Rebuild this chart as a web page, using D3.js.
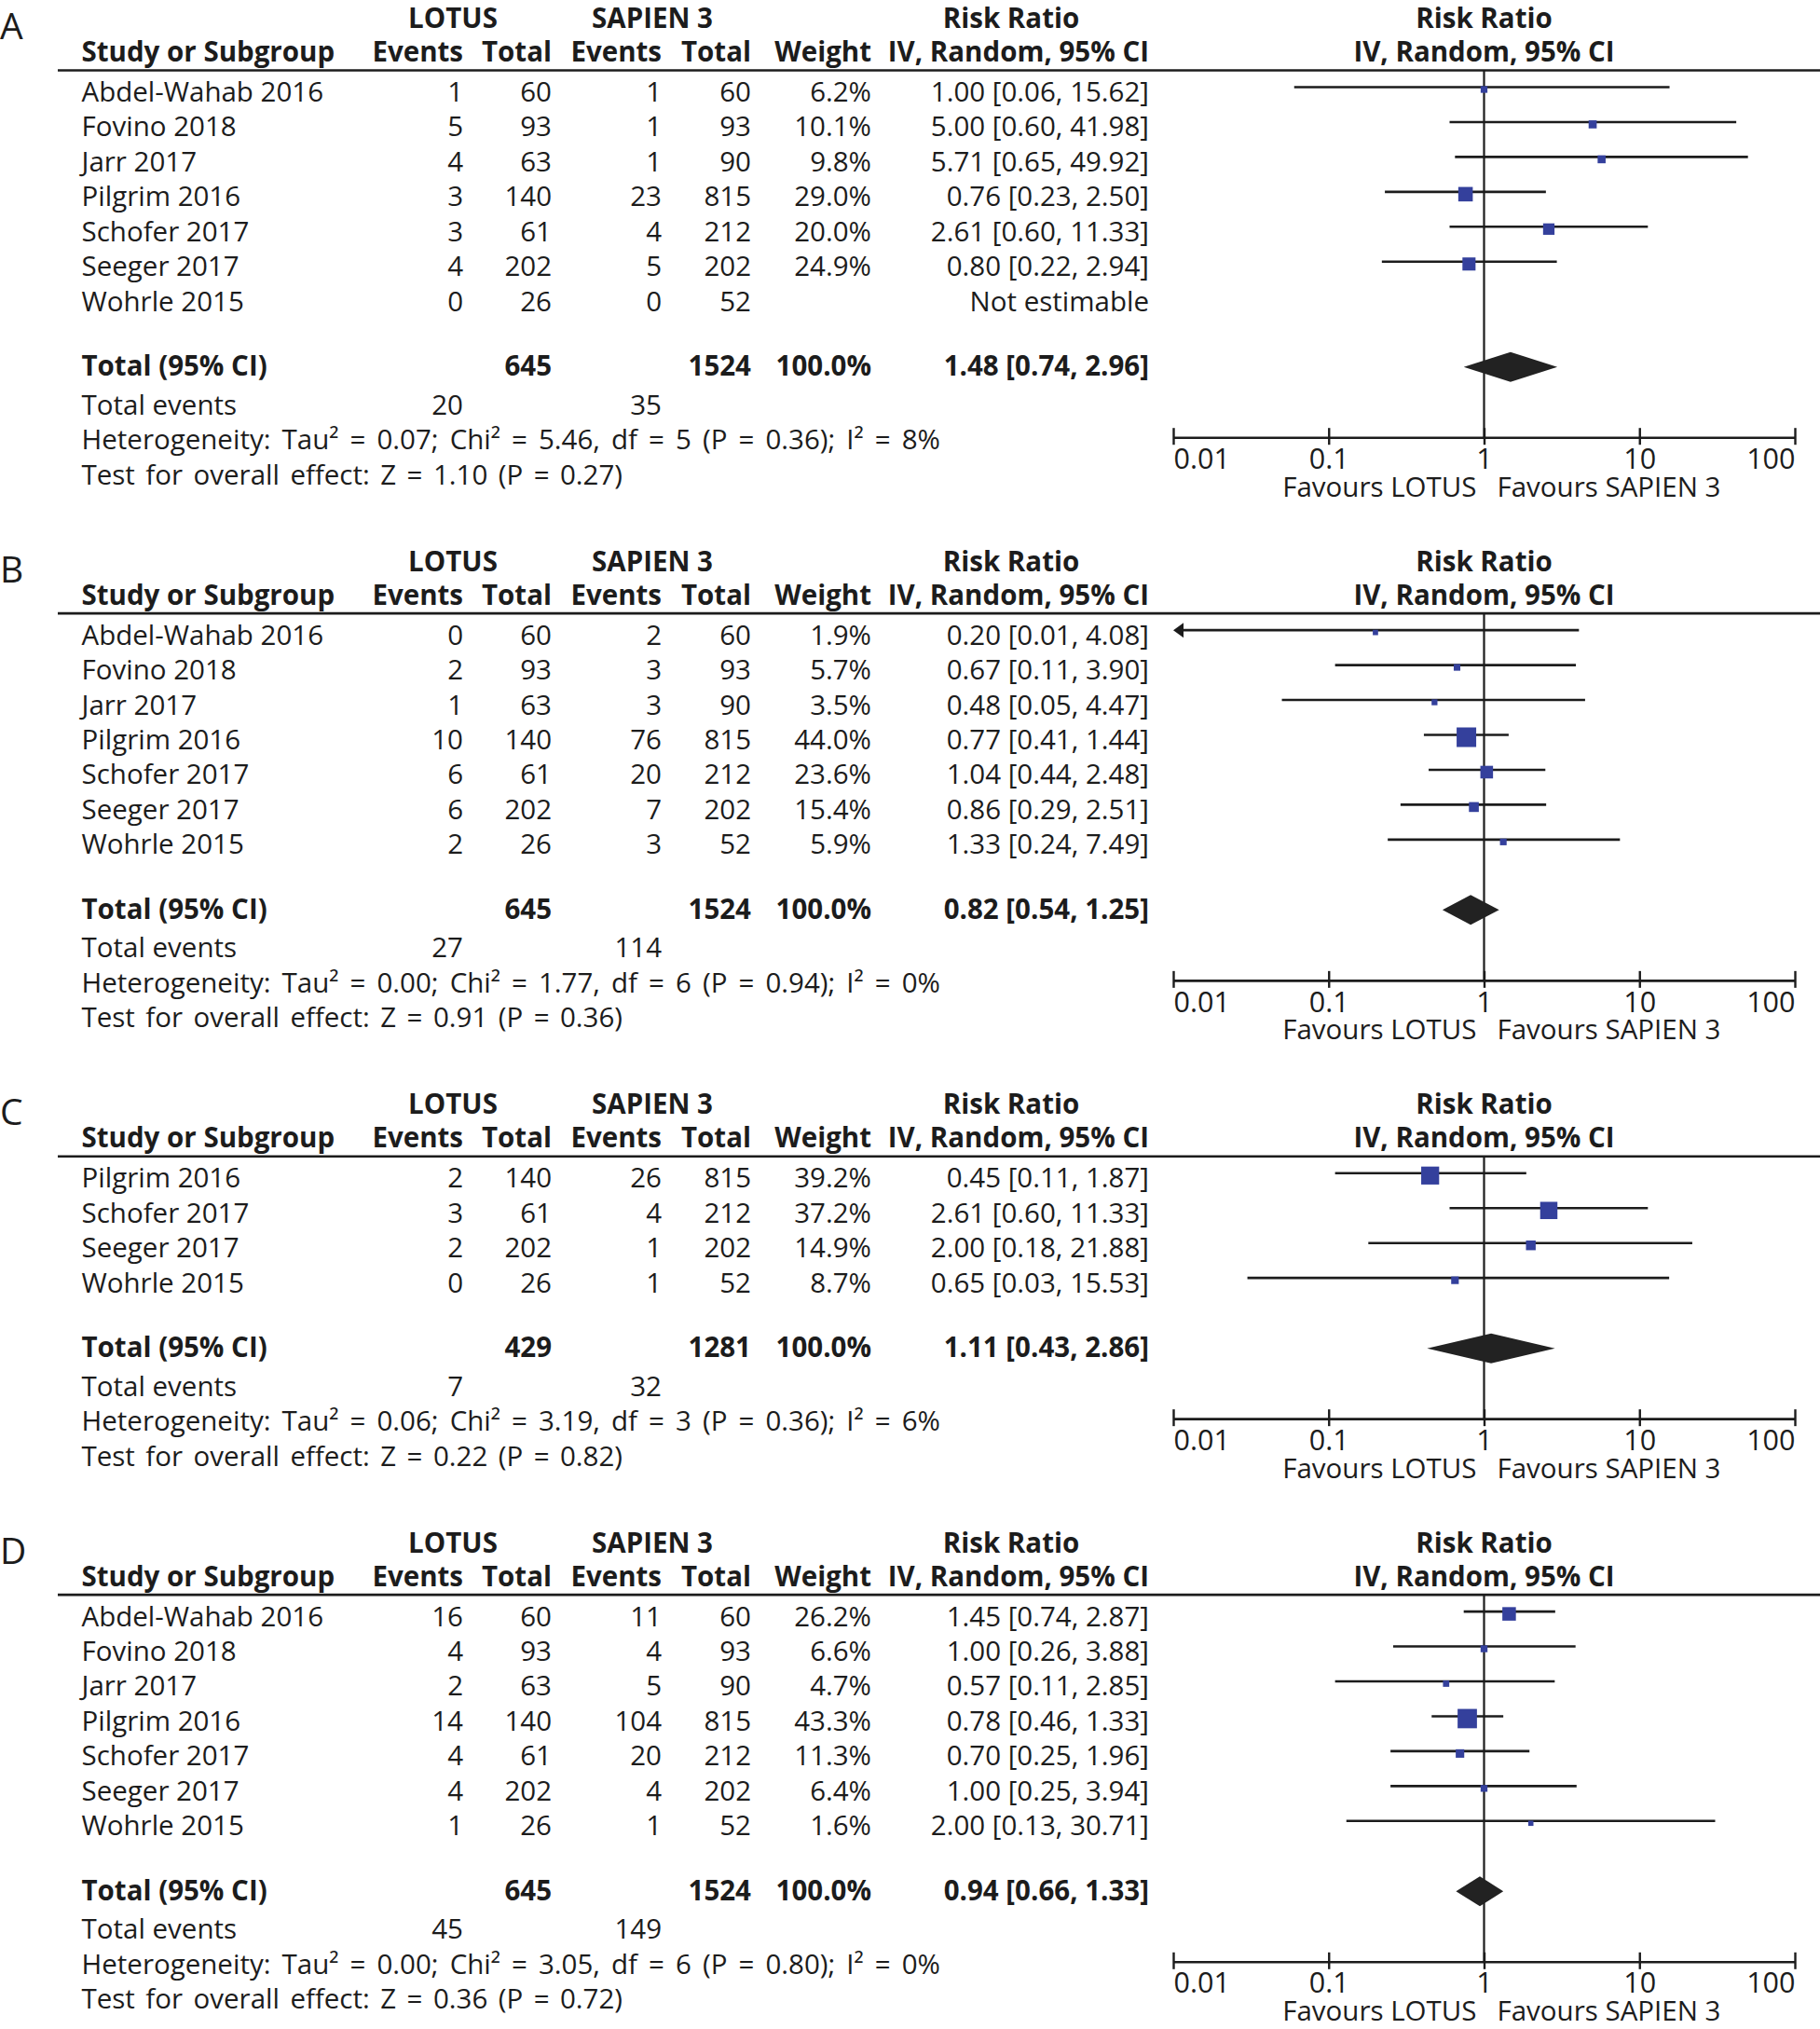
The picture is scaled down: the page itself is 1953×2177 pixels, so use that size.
<!DOCTYPE html>
<html><head><meta charset="utf-8">
<script src="https://cdn.jsdelivr.net/npm/d3@7"></script>
<style>
body{margin:0;background:#fff}
svg{display:block}
text{font-family:'Open Sans',sans-serif;fill:#1c1c1c}
</style>
</head><body>
<svg id="chart" width="1953" height="2177"></svg>
<script>
// ---------------- DATA ----------------
const panelLabels = ["A", "B", "C", "D"];

const studiesA = ["Abdel-Wahab 2016", "Fovino 2018", "Jarr 2017", "Pilgrim 2016", "Schofer 2017", "Seeger 2017", "Wohrle 2015"];
const lotusEventsA = [1, 5, 4, 3, 3, 4, 0];
const lotusTotalA = [60, 93, 63, 140, 61, 202, 26];
const sapienEventsA = [1, 1, 1, 23, 4, 5, 0];
const sapienTotalA = [60, 93, 90, 815, 212, 202, 52];
const weightA = [6.2, 10.1, 9.8, 29.0, 20.0, 24.9, null];
const rrA = [1.00, 5.00, 5.71, 0.76, 2.61, 0.80, null];
const lowerA = [0.06, 0.60, 0.65, 0.23, 0.60, 0.22, null];
const upperA = [15.62, 41.98, 49.92, 2.50, 11.33, 2.94, null];

const studiesB = ["Abdel-Wahab 2016", "Fovino 2018", "Jarr 2017", "Pilgrim 2016", "Schofer 2017", "Seeger 2017", "Wohrle 2015"];
const lotusEventsB = [0, 2, 1, 10, 6, 6, 2];
const lotusTotalB = [60, 93, 63, 140, 61, 202, 26];
const sapienEventsB = [2, 3, 3, 76, 20, 7, 3];
const sapienTotalB = [60, 93, 90, 815, 212, 202, 52];
const weightB = [1.9, 5.7, 3.5, 44.0, 23.6, 15.4, 5.9];
const rrB = [0.20, 0.67, 0.48, 0.77, 1.04, 0.86, 1.33];
const lowerB = [0.01, 0.11, 0.05, 0.41, 0.44, 0.29, 0.24];
const upperB = [4.08, 3.90, 4.47, 1.44, 2.48, 2.51, 7.49];

const studiesC = ["Pilgrim 2016", "Schofer 2017", "Seeger 2017", "Wohrle 2015"];
const lotusEventsC = [2, 3, 2, 0];
const lotusTotalC = [140, 61, 202, 26];
const sapienEventsC = [26, 4, 1, 1];
const sapienTotalC = [815, 212, 202, 52];
const weightC = [39.2, 37.2, 14.9, 8.7];
const rrC = [0.45, 2.61, 2.00, 0.65];
const lowerC = [0.11, 0.60, 0.18, 0.03];
const upperC = [1.87, 11.33, 21.88, 15.53];

const studiesD = ["Abdel-Wahab 2016", "Fovino 2018", "Jarr 2017", "Pilgrim 2016", "Schofer 2017", "Seeger 2017", "Wohrle 2015"];
const lotusEventsD = [16, 4, 2, 14, 4, 4, 1];
const lotusTotalD = [60, 93, 63, 140, 61, 202, 26];
const sapienEventsD = [11, 4, 5, 104, 20, 4, 1];
const sapienTotalD = [60, 93, 90, 815, 212, 202, 52];
const weightD = [26.2, 6.6, 4.7, 43.3, 11.3, 6.4, 1.6];
const rrD = [1.45, 1.00, 0.57, 0.78, 0.70, 1.00, 2.00];
const lowerD = [0.74, 0.26, 0.11, 0.46, 0.25, 0.25, 0.13];
const upperD = [2.87, 3.88, 2.85, 1.33, 1.96, 3.94, 30.71];

const totalLotus = [645, 645, 429, 645];
const totalSapien = [1524, 1524, 1281, 1524];
const totalRR = [1.48, 0.82, 1.11, 0.94];
const totalLower = [0.74, 0.54, 0.43, 0.66];
const totalUpper = [2.96, 1.25, 2.86, 1.33];
const eventsLotus = [20, 27, 7, 45];
const eventsSapien = [35, 114, 32, 149];
const tau2 = ["0.07", "0.00", "0.06", "0.00"];
const chi2 = ["5.46", "1.77", "3.19", "3.05"];
const dfHet = [5, 6, 3, 6];
const pHet = ["0.36", "0.94", "0.36", "0.80"];
const i2 = [8, 0, 6, 0];
const zValue = ["1.10", "0.91", "0.22", "0.36"];
const pOverall = ["0.27", "0.36", "0.82", "0.72"];

const axisTicks = [0.01, 0.1, 1, 10, 100];
const axisTickLabels = ["0.01", "0.1", "1", "10", "100"];

// ---------------- BUILD ----------------
const panels = [
  {studies: studiesA, le: lotusEventsA, lt: lotusTotalA, se: sapienEventsA, st: sapienTotalA, w: weightA, rr: rrA, lo: lowerA, hi: upperA},
  {studies: studiesB, le: lotusEventsB, lt: lotusTotalB, se: sapienEventsB, st: sapienTotalB, w: weightB, rr: rrB, lo: lowerB, hi: upperB},
  {studies: studiesC, le: lotusEventsC, lt: lotusTotalC, se: sapienEventsC, st: sapienTotalC, w: weightC, rr: rrC, lo: lowerC, hi: upperC},
  {studies: studiesD, le: lotusEventsD, lt: lotusTotalD, se: sapienEventsD, st: sapienTotalD, w: weightD, rr: rrD, lo: lowerD, hi: upperD}
];

const svg = d3.select("#chart");
const FS = 29.5;
const ROW = 37.45;
const INK = "#1c1c1c";
const BLUE = "#34409c";
const f2 = d3.format(".2f");
const f1 = d3.format(".1f");

const x = d3.scaleLog().domain([0.01, 100]).range([1259, 1926]);
const boxSize = d3.scaleLinear().domain([0, 44]).range([5, 21]);

// column anchors
const col = {name: 87.5, le: 497, lt: 592, se: 710, st: 806, w: 935, rr: 1233, lotusHead: 486, sapHead: 700, rrHead: 1085};

function txt(g, s, xx, yy, anchor, bold, size) {
  return g.append("text").attr("x", xx).attr("y", yy)
    .attr("text-anchor", anchor || "start")
    .attr("font-size", size || FS)
    .attr("font-weight", bold ? 700 : 400)
    .text(s);
}
function rrText(r, l, h) {
  return `${f2(r)} [${f2(l)}, ${f2(h)}]`;
}

let panelTop = 0;
panels.forEach((p, k) => {
  const g = svg.append("g").attr("transform", `translate(0,${panelTop})`);
  const n = p.studies.length;

  // panel letter
  txt(g, panelLabels[k], 0, 42, "start", false, 39);

  // headers
  txt(g, "LOTUS", col.lotusHead, 30, "middle", true);
  txt(g, "SAPIEN 3", col.sapHead, 30, "middle", true);
  txt(g, "Risk Ratio", col.rrHead, 30, "middle", true);
  txt(g, "Risk Ratio", x(1), 30, "middle", true);
  txt(g, "Study or Subgroup", col.name, 66, "start", true);
  txt(g, "Events", col.le, 66, "end", true);
  txt(g, "Total", col.lt, 66, "end", true);
  txt(g, "Events", col.se, 66, "end", true);
  txt(g, "Total", col.st, 66, "end", true);
  txt(g, "Weight", col.w, 66, "end", true);
  txt(g, "IV, Random, 95% CI", col.rr, 66, "end", true);
  txt(g, "IV, Random, 95% CI", x(1), 66, "middle", true);

  const lineY = 75.5;
  g.append("line").attr("x1", 62).attr("x2", 1953).attr("y1", lineY).attr("y2", lineY)
    .attr("stroke", INK).attr("stroke-width", 2.6);

  const rowY = i => 109 + i * ROW;
  const totalY = rowY(n - 1) + 69.5;
  const evY = totalY + 41.5;
  const hetY = evY + 37.5;
  const testY = hetY + 37.5;
  const axisY = hetY - 13;

  // vertical line of no effect
  g.append("line").attr("x1", x(1)).attr("x2", x(1)).attr("y1", lineY).attr("y2", axisY)
    .attr("stroke", INK).attr("stroke-width", 2.2);

  // study rows
  p.studies.forEach((s, i) => {
    const y = rowY(i);
    txt(g, s, col.name, y, "start");
    txt(g, p.le[i], col.le, y, "end");
    txt(g, p.lt[i], col.lt, y, "end");
    txt(g, p.se[i], col.se, y, "end");
    txt(g, p.st[i], col.st, y, "end");
    if (p.w[i] != null) txt(g, f1(p.w[i]) + "%", col.w, y, "end");
    if (p.rr[i] != null) {
      txt(g, rrText(p.rr[i], p.lo[i], p.hi[i]), col.rr, y, "end");
      const ly = y - 15.5;
      const lo = Math.max(p.lo[i], 0.01), hi = Math.min(p.hi[i], 100);
      const arrowL = p.lo[i] <= 0.01;
      g.append("line").attr("x1", x(lo) + (arrowL ? 6 : 0)).attr("x2", x(hi)).attr("y1", ly).attr("y2", ly)
        .attr("stroke", INK).attr("stroke-width", 2.6);
      if (arrowL) {
        g.append("path")
          .attr("d", `M${x(lo)},${ly} L${x(lo) + 11},${ly - 8} L${x(lo) + 11},${ly + 8} Z`)
          .attr("fill", INK);
      }
      const sz = boxSize(p.w[i]);
      g.append("rect").attr("x", x(p.rr[i]) - sz / 2).attr("y", y - 13 - sz / 2)
        .attr("width", sz).attr("height", sz).attr("fill", BLUE);
    } else {
      txt(g, "Not estimable", col.rr, y, "end");
    }
  });

  // total row
  txt(g, "Total (95% CI)", col.name, totalY, "start", true);
  txt(g, totalLotus[k], col.lt, totalY, "end", true);
  txt(g, totalSapien[k], col.st, totalY, "end", true);
  txt(g, "100.0%", col.w, totalY, "end", true);
  txt(g, rrText(totalRR[k], totalLower[k], totalUpper[k]), col.rr, totalY, "end", true);
  const dy = totalY - 9.5;
  g.append("path")
    .attr("d", `M${x(totalLower[k])},${dy} L${x(totalRR[k])},${dy - 16} L${x(totalUpper[k])},${dy} L${x(totalRR[k])},${dy + 16} Z`)
    .attr("fill", "#222");

  txt(g, "Total events", col.name, evY, "start");
  txt(g, eventsLotus[k], col.le, evY, "end");
  txt(g, eventsSapien[k], col.se, evY, "end");
  txt(g, `Heterogeneity: Tau² = ${tau2[k]}; Chi² = ${chi2[k]}, df = ${dfHet[k]} (P = ${pHet[k]}); I² = ${i2[k]}%`, col.name, hetY, "start")
    .attr("word-spacing", 4.4);
  txt(g, `Test for overall effect: Z = ${zValue[k]} (P = ${pOverall[k]})`, col.name, testY, "start")
    .attr("word-spacing", 3.8);

  // axis
  const axis = d3.axisBottom(x).tickValues(axisTicks)
    .tickFormat((d, i) => axisTickLabels[i]).tickSizeOuter(0).tickSizeInner(8);
  const ga = g.append("g").attr("transform", `translate(0,${axisY})`).call(axis);
  ga.attr("font-family", null).attr("font-size", null);
  ga.select(".domain").attr("stroke", INK).attr("stroke-width", 2.6);
  ga.selectAll(".tick line").attr("y1", -10).attr("y2", 8).attr("stroke", INK).attr("stroke-width", 2.4);
  ga.selectAll(".tick text").attr("y", 33.7).attr("dy", null).attr("font-size", 30.5)
    .attr("text-anchor", (d, i) => i === 0 ? "start" : (i === axisTicks.length - 1 ? "end" : "middle"));

  txt(g, "Favours LOTUS", x(1) - 8, axisY + 63.5, "end");
  txt(g, "Favours SAPIEN 3", x(1) + 14, axisY + 63.5, "start");

  panelTop += 320.5 + n * ROW;
});
</script>
</body></html>
